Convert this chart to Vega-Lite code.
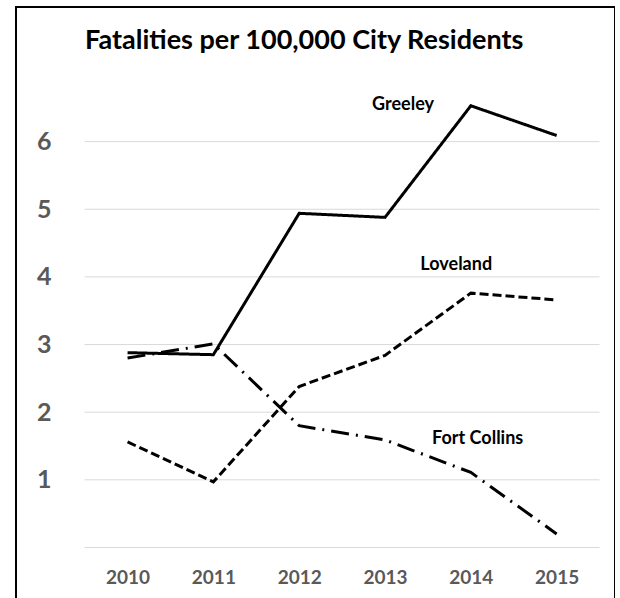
{
  "$schema": "https://vega.github.io/schema/vega-lite/v6.json",
  "width": 599,
  "height": 600,
  "autosize": {"type": "none"},
  "padding": {"left": 16, "top": 7, "right": 0, "bottom": 0},
  "background": "white",
  "config": {
    "view": {"stroke": "#000000", "strokeWidth": 2},
    "font": "Lato"
  },
  "title": {
    "text": "Fatalities per 100,000 City Residents",
    "anchor": "start",
    "frame": "group",
    "dx": 69,
    "dy": 25,
    "offset": -44,
    "baseline": "alphabetic",
    "font": "Lato",
    "fontSize": 27,
    "fontWeight": "bold",
    "color": "#000000"
  },
  "datasets": {
    "series": [
      {"city": "Greeley", "year": 2010, "rate": 2.88},
      {"city": "Greeley", "year": 2011, "rate": 2.85},
      {"city": "Greeley", "year": 2012, "rate": 4.94},
      {"city": "Greeley", "year": 2013, "rate": 4.88},
      {"city": "Greeley", "year": 2014, "rate": 6.53},
      {"city": "Greeley", "year": 2015, "rate": 6.09},
      {"city": "Loveland", "year": 2010, "rate": 1.56},
      {"city": "Loveland", "year": 2011, "rate": 0.97},
      {"city": "Loveland", "year": 2012, "rate": 2.38},
      {"city": "Loveland", "year": 2013, "rate": 2.84},
      {"city": "Loveland", "year": 2014, "rate": 3.76},
      {"city": "Loveland", "year": 2015, "rate": 3.66},
      {"city": "Fort Collins", "year": 2010, "rate": 2.80},
      {"city": "Fort Collins", "year": 2011, "rate": 3.01},
      {"city": "Fort Collins", "year": 2012, "rate": 1.80},
      {"city": "Fort Collins", "year": 2013, "rate": 1.59},
      {"city": "Fort Collins", "year": 2014, "rate": 1.11},
      {"city": "Fort Collins", "year": 2015, "rate": 0.20}
    ],
    "labels": [
      {"city": "Greeley", "lx": 2013.21, "ly": 6.54},
      {"city": "Loveland", "lx": 2013.83, "ly": 4.18},
      {"city": "Fort Collins", "lx": 2014.08, "ly": 1.60}
    ],
    "grid": [
      {"level": 0}, {"level": 1}, {"level": 2}, {"level": 3},
      {"level": 4}, {"level": 5}, {"level": 6}
    ]
  },
  "layer": [
    {
      "data": {"name": "grid"},
      "mark": {"type": "rule", "color": "#d9d9d9", "strokeWidth": 1},
      "encoding": {
        "x": {"datum": 2009.5, "type": "quantitative", "scale": {"domain": [2008.7, 2015.68], "nice": false, "zero": false}},
        "x2": {"datum": 2015.5},
        "y": {"field": "level", "type": "quantitative", "scale": {"domain": [-0.88, 7.99], "nice": false, "zero": false}}
      }
    },
    {
      "data": {"name": "series"},
      "mark": {"type": "line", "color": "#000000", "strokeWidth": 3, "strokeJoin": "miter"},
      "encoding": {
        "x": {
          "field": "year", "type": "quantitative",
          "axis": {
            "values": [2010, 2011, 2012, 2013, 2014, 2015],
            "format": "d", "title": null, "grid": false, "domain": false,
            "ticks": false, "tickSize": 0, "labelPadding": 0, "offset": -30,
            "labelBaseline": "middle",
            "labelFont": "Lato", "labelFontSize": 19, "labelFontWeight": "bold",
            "labelColor": "#595959"
          }
        },
        "y": {
          "field": "rate", "type": "quantitative",
          "axis": {
            "values": [1, 2, 3, 4, 5, 6],
            "format": "d",
            "title": null, "grid": false, "domain": false,
            "ticks": false, "tickSize": 0, "labelPadding": 0, "offset": -35,
            "labelFont": "Lato", "labelFontSize": 25, "labelFontWeight": "bold",
            "labelColor": "#595959"
          }
        },
        "strokeDash": {
          "field": "city", "type": "nominal", "legend": null,
          "scale": {
            "domain": ["Greeley", "Loveland", "Fort Collins"],
            "range": [[1, 0], [9, 4], [18, 7, 2, 7]]
          }
        }
      }
    },
    {
      "data": {"name": "labels"},
      "mark": {"type": "text", "font": "Lato", "fontSize": 18, "fontWeight": "bold", "color": "#000000", "align": "center", "baseline": "middle"},
      "encoding": {
        "x": {"field": "lx", "type": "quantitative"},
        "y": {"field": "ly", "type": "quantitative"},
        "text": {"field": "city"}
      }
    }
  ]
}
